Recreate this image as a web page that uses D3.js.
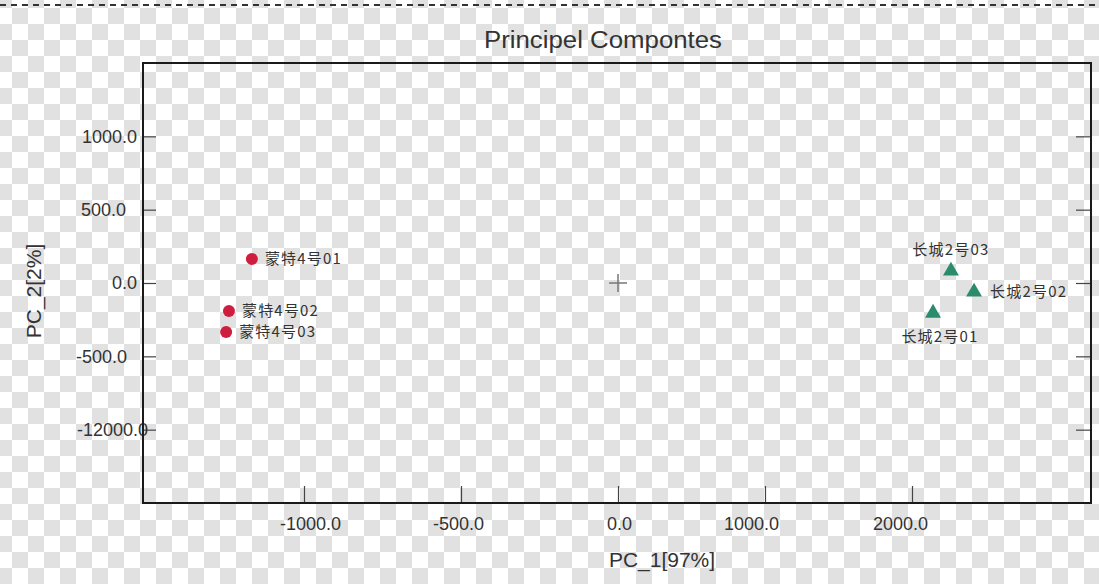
<!DOCTYPE html>
<html>
<head>
<meta charset="utf-8">
<script src="https://cdn.jsdelivr.net/npm/d3@7"></script>
<style>
  body { margin: 0; background: #fff; }
  text { font-family: "Liberation Sans", Arial, sans-serif; fill: #333; }
  .pt-label { font-family: "Noto Sans CJK SC", "Liberation Sans", sans-serif; font-size: 15px; letter-spacing: 1.2px; }
</style>
</head>
<body>
<div id="chart"></div>
<script>
// sample groups
const groupA = ["蒙特4号01", "蒙特4号02", "蒙特4号03"];
const groupAx = [-1166, -1239, -1248];
const groupAy = [164, -191, -334];

const groupB = ["长城2号01", "长城2号02", "长城2号03"];
const groupBx = [2143, 2422, 2265];
const groupBy = [-205, -61, 82];

// tick values and the (odd) labels shown on them
const xTicks = [-1000, -500, 0, 1000, 2000];
const xTickLabels = ["-1000.0", "-500.0", "0.0", "1000.0", "2000.0"];
const yTicks = [1000, 500, 0, -500, -1000];
const yTickLabels = ["1000.0", "500.0", "0.0", "-500.0", "-12000.0"];

const width = 1099, height = 584;
const margin = { top: 63, right: 8, bottom: 81, left: 144 };
const plotW = width - margin.left - margin.right;
const plotH = height - margin.top - margin.bottom;

const svg = d3.select("#chart").append("svg")
  .attr("width", width)
  .attr("height", height);

// checkerboard background, 16px cells
const cell = 16;
const cells = [];
for (let r = 0; r * cell - 8 < height; r++) {
  for (let c = 0; c * cell - 4 < width; c++) {
    if ((r + c) % 2 === 0) cells.push([c * cell - 4, r * cell - 8]);
  }
}
svg.append("rect").attr("width", width).attr("height", height).attr("fill", "#fff");
svg.append("g").selectAll("rect")
  .data(cells)
  .enter()
  .append("rect")
  .attr("x", d => d[0])
  .attr("y", d => d[1])
  .attr("width", cell)
  .attr("height", cell)
  .style("fill", "#e1e1e1");

svg.append("line")
  .attr("x1", 0).attr("x2", width)
  .attr("y1", 5).attr("y2", 5)
  .attr("stroke", "#333")
  .attr("stroke-width", 2)
  .attr("stroke-dasharray", "6,5");

// x axis is stretched differently on each side of zero
let xScale = d3.scaleLinear()
  .domain([-1000, 0, 2000])
  .range([304 - margin.left, 618 - margin.left, 912 - margin.left]);

let yScale = d3.scaleLinear()
  .domain([-1500, 1500])
  .range([plotH, 0]);

const g = svg.append("g")
  .attr("transform", "translate(" + margin.left + "," + margin.top + ")");

// label nudges to match where the original put them
const xLabelShift = [6, -3, 1, -14, -12];
const yLabelShift = [0, -11, 0, -10, 11];

let xAxis = d3.axisBottom(xScale)
  .tickValues(xTicks)
  .tickSizeInner(-17)
  .tickSizeOuter(0)
  .tickPadding(14)
  .tickFormat((d, i) => xTickLabels[i]);

let xg = g.append("g")
  .attr("transform", "translate(0," + plotH + ")")
  .call(xAxis);
xg.select(".domain").remove();
xg.selectAll(".tick line").attr("stroke", "#444").attr("stroke-width", 1.2);
xg.selectAll(".tick text")
  .attr("font-size", 18)
  .attr("font-family", "'Liberation Sans', Arial, sans-serif")
  .attr("fill", "#333")
  .attr("dx", (d, i) => xLabelShift[i]);

let yAxis = d3.axisLeft(yScale)
  .tickValues(yTicks)
  .tickSizeInner(-12)
  .tickSizeOuter(0)
  .tickPadding(7)
  .tickFormat((d, i) => yTickLabels[i]);

let yg = g.append("g").call(yAxis);
yg.select(".domain").remove();
yg.selectAll(".tick line").attr("stroke", "#444").attr("stroke-width", 1.2);
yg.selectAll(".tick text")
  .attr("font-size", 18)
  .attr("font-family", "'Liberation Sans', Arial, sans-serif")
  .attr("fill", "#333")
  .attr("dx", (d, i) => yLabelShift[i]);

let yAxisR = d3.axisRight(yScale)
  .tickValues(yTicks)
  .tickSizeInner(-15)
  .tickSizeOuter(0)
  .tickFormat("");

let yr = g.append("g")
  .attr("transform", "translate(" + plotW + ",0)")
  .call(yAxisR);
yr.select(".domain").remove();
yr.selectAll(".tick line").attr("stroke", "#444").attr("stroke-width", 1.2);

// frame
g.append("rect")
  .attr("x", -1).attr("y", 0)
  .attr("width", plotW + 1).attr("height", plotH)
  .attr("fill", "none")
  .attr("stroke", "#1a1a1a")
  .attr("stroke-width", 2);

// origin cross
const cx = xScale(0), cy = yScale(0);
g.append("line").attr("x1", cx - 9).attr("x2", cx + 9).attr("y1", cy).attr("y2", cy)
  .attr("stroke", "#777").attr("stroke-width", 1.5);
g.append("line").attr("x1", cx).attr("x2", cx).attr("y1", cy - 9).attr("y2", cy + 9)
  .attr("stroke", "#777").attr("stroke-width", 1.5);

// group A: red dots, labels to the right
g.selectAll(".ptA")
  .data(groupA)
  .enter()
  .append("circle")
  .attr("class", "ptA")
  .attr("cx", (d, i) => xScale(groupAx[i]))
  .attr("cy", (d, i) => yScale(groupAy[i]))
  .attr("r", 6)
  .attr("fill", "#cf1d3f");

g.selectAll(".lblA")
  .data(groupA)
  .enter()
  .append("text")
  .attr("class", "pt-label")
  .attr("x", (d, i) => xScale(groupAx[i]) + 13)
  .attr("y", (d, i) => yScale(groupAy[i]))
  .attr("dy", "0.35em")
  .text(d => d);

// group B: green triangles
const tri = d3.symbol().type(d3.symbolTriangle).size(110);
g.selectAll(".ptB")
  .data(groupB)
  .enter()
  .append("path")
  .attr("class", "ptB")
  .attr("d", tri)
  .attr("transform", (d, i) => "translate(" + xScale(groupBx[i]) + "," + yScale(groupBy[i]) + ")")
  .attr("fill", "#2a8c6c");

// 01 below, 02 right, 03 above
const placeB = [
  { dx: 7, dy: 24, anchor: "middle" },
  { dx: 16, dy: 0, anchor: "start" },
  { dx: 0, dy: -21, anchor: "middle" }
];
g.selectAll(".lblB")
  .data(groupB)
  .enter()
  .append("text")
  .attr("class", "pt-label")
  .attr("x", (d, i) => xScale(groupBx[i]) + placeB[i].dx)
  .attr("y", (d, i) => yScale(groupBy[i]) + placeB[i].dy)
  .attr("dy", "0.35em")
  .attr("text-anchor", (d, i) => placeB[i].anchor)
  .text(d => d);

// titles
svg.append("text")
  .attr("x", 603).attr("y", 48)
  .attr("text-anchor", "middle")
  .attr("font-size", 23)
  .attr("textLength", 238)
  .attr("lengthAdjust", "spacingAndGlyphs")
  .text("Principel Compontes");

svg.append("text")
  .attr("x", 662).attr("y", 567)
  .attr("text-anchor", "middle")
  .attr("font-size", 21)
  .text("PC_1[97%]");

svg.append("text")
  .attr("transform", "translate(41,291) rotate(-90)")
  .attr("text-anchor", "middle")
  .attr("font-size", 21)
  .text("PC_2[2%]");
</script>
</body>
</html>
